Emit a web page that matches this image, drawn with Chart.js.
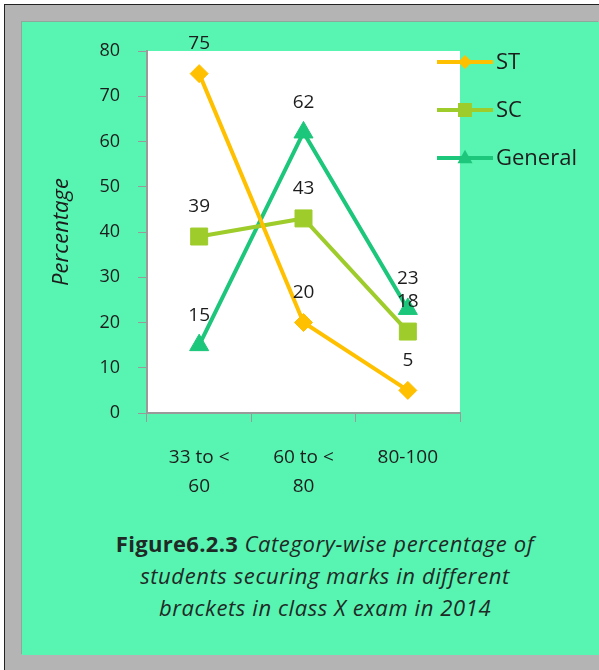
<!DOCTYPE html>
<html>
<head>
<meta charset="utf-8">
<script src="https://cdn.jsdelivr.net/npm/chart.js@4"></script>
<style>
  html, body { margin: 0; padding: 0; background: #ffffff; }
  body { width: 599px; height: 670px; position: relative; overflow: hidden; font-family: "Open Sans", sans-serif; }
  #frame { position: absolute; left: 4px; top: 4px; right: 0; bottom: 0; background: #b4b4b4; border-left: 1px solid #222; border-top: 1px solid #222; }
  #panel { position: absolute; left: 22px; top: 22px; width: 577px; height: 633px; background: #58f5b2; box-shadow: -1px -1px 0 #8fa89c; }
  #chartBox { position: absolute; left: 0; top: 0; width: 577px; height: 480px; }
  #caption { position: absolute; left: 53px; width: 500px; top: 505px; text-align: center; font-size: 22px; line-height: 32px; letter-spacing: 0.6px; color: #1f2a26; }
  #caption b { font-weight: 700; font-style: normal; letter-spacing: 0.3px; }
  #caption i { font-style: italic; }
</style>
</head>
<body>
<div id="frame"></div>
<div id="panel">
  <div id="chartBox"><canvas id="c" width="577" height="480"></canvas></div>
  <div id="caption"><b>Figure6.2.3</b> <i>Category-wise percentage of<br>students securing marks in different<br>brackets in class X exam in 2014</i></div>
</div>
<script>
// Mark brackets on the x axis (two-line labels)
const categories = [["33 to <", "60"], ["60 to <", "80"], ["80-100"]];
// Percentage of students per category
const stValues = [75, 20, 5];
const scValues = [39, 43, 18];
const generalValues = [15, 62, 23];
const seriesNames = ["ST", "SC", "General"];
const yTicks = { min: 0, max: 80, step: 10 };

const FONT = '"Open Sans", sans-serif';
const TEXT = '#1c1c1c';
const AXIS = '#9a9a9a';

// White plotting area
const plotBackground = {
  id: 'plotBackground',
  beforeDraw(chart) {
    const a = chart.chartArea;
    const ctx = chart.ctx;
    ctx.save();
    ctx.fillStyle = '#ffffff';
    ctx.fillRect(a.left, a.top, a.right - a.left, a.bottom - a.top);
    ctx.restore();
  }
};

// Value labels above each point
const valueLabels = {
  id: 'valueLabels',
  afterDatasetsDraw(chart) {
    const ctx = chart.ctx;
    ctx.save();
    ctx.font = '19px ' + FONT;
    ctx.fillStyle = TEXT;
    ctx.textAlign = 'center';
    ctx.textBaseline = 'middle';
    chart.data.datasets.forEach((ds, i) => {
      const meta = chart.getDatasetMeta(i);
      meta.data.forEach((pt, j) => {
        ctx.fillText(String(ds.data[j]), pt.x, pt.y - 30);
      });
    });
    ctx.restore();
  }
};

function drawMarker(ctx, style, x, y, r, color) {
  ctx.fillStyle = color;
  ctx.beginPath();
  if (style === 'rectRot') {
    ctx.moveTo(x, y - r); ctx.lineTo(x + r, y); ctx.lineTo(x, y + r); ctx.lineTo(x - r, y);
  } else if (style === 'rect') {
    ctx.rect(x - r, y - r, 2 * r, 2 * r);
  } else {
    ctx.moveTo(x, y - r * 1.1); ctx.lineTo(x + r, y + r * 0.7); ctx.lineTo(x - r, y + r * 0.7);
  }
  ctx.closePath();
  ctx.fill();
}

// Legend at the right, overlapping the plot edge
const sideLegend = {
  id: 'sideLegend',
  afterDraw(chart) {
    const ctx = chart.ctx;
    const a = chart.chartArea;
    ctx.save();
    chart.data.datasets.forEach((ds, i) => {
      const y = a.top + 11 + i * 48;
      const x0 = a.right - 23, x1 = a.right + 33;
      ctx.strokeStyle = ds.borderColor;
      ctx.lineWidth = 4;
      ctx.beginPath(); ctx.moveTo(x0, y); ctx.lineTo(x1, y); ctx.stroke();
      const sizes = { rectRot: 7, rect: 7, triangle: 7.5 };
      drawMarker(ctx, ds.pointStyle, (x0 + x1) / 2, y, sizes[ds.pointStyle], ds.borderColor);
      ctx.font = '22px ' + FONT;
      ctx.fillStyle = TEXT;
      ctx.textAlign = 'left';
      ctx.textBaseline = 'middle';
      ctx.fillText(ds.label, x1 + 3, y + 1);
    });
    ctx.restore();
  }
};

new Chart(document.getElementById('c'), {
  type: 'line',
  data: {
    labels: categories,
    datasets: [
      { label: seriesNames[0], data: stValues, borderColor: '#ffc000', backgroundColor: '#ffc000',
        pointStyle: 'rectRot', pointRadius: 9, pointHoverRadius: 9, borderWidth: 4, pointBorderWidth: 1 },
      { label: seriesNames[1], data: scValues, borderColor: '#9ecc2a', backgroundColor: '#9ecc2a',
        pointStyle: 'rect', pointRadius: 12, pointHoverRadius: 12, borderWidth: 4, pointBorderWidth: 1 },
      { label: seriesNames[2], data: generalValues, borderColor: '#1cc67a', backgroundColor: '#1cc67a',
        pointStyle: 'triangle', pointRadius: 11, pointHoverRadius: 11, borderWidth: 4, pointBorderWidth: 1 }
    ]
  },
  options: {
    responsive: false,
    animation: false,
    layout: { padding: { left: 0, top: 29, right: 139, bottom: 0 } },
    plugins: { legend: { display: false }, tooltip: { enabled: false } },
    scales: {
      x: {
        offset: true,
        afterFit(s) { s.height = 89; },
        grid: { offset: true, drawOnChartArea: false, drawTicks: true, tickLength: 9, color: AXIS, lineWidth: 1 },
        border: { color: AXIS, width: 2 },
        ticks: { color: TEXT, font: { family: FONT, size: 19, lineHeight: 1.52 }, padding: 21, maxRotation: 0 }
      },
      y: {
        min: yTicks.min, max: yTicks.max,
        afterFit(s) { s.width = 125; },
        grid: { drawOnChartArea: false, drawTicks: true, tickLength: 9, color: AXIS, lineWidth: 1 },
        border: { color: AXIS, width: 2 },
        ticks: { stepSize: yTicks.step, color: TEXT, font: { family: FONT, size: 18 }, padding: 18 },
        title: { display: true, text: 'Percentage', color: TEXT, font: { family: FONT, size: 22, style: 'italic' }, padding: { top: 27, bottom: 0 } }
      }
    }
  },
  plugins: [plotBackground, valueLabels, sideLegend]
});
</script>
</body>
</html>
